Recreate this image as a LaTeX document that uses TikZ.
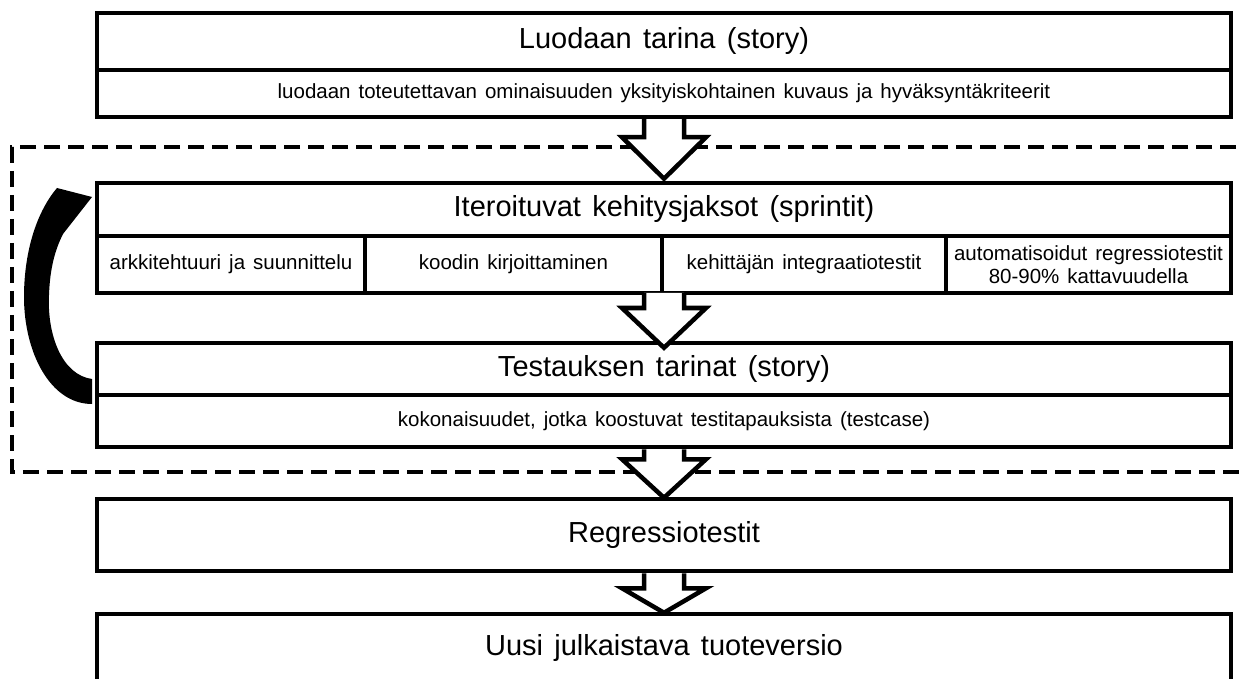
\documentclass[tikz,border=0pt]{standalone}
\usepackage{fontspec}
\setmainfont{Liberation Sans}[WordSpace=1.4]
\usetikzlibrary{calc}
\begin{document}
\begin{tikzpicture}[x=1pt,y=-1pt,
  box/.style={draw=black,line width=4.5pt,fill=white,inner sep=0pt,align=center},
  titlebox/.style={box,font=\fontsize{29}{33}\selectfont},
  subbox/.style={box,font=\fontsize{20.5}{22.5}\selectfont},
  blockarr/.style={draw=black,fill=white,line width=4.5pt,line join=miter},
  dashbox/.style={draw=black,line width=4.5pt,dash pattern=on 16pt off 8pt}]
\useasboundingbox (0,0) rectangle (1243,679);
\clip (0,0) rectangle (1243,679);
% dashed iteration frame
\draw[dashbox] (1260,147) -- (12,147) -- (12,472) -- (1260,472);
% box 1
\node[titlebox,minimum width=1134pt,minimum height=57pt] (b1top) at (664,41.5) {Luodaan tarina (story)};
\node[subbox,minimum width=1134pt,minimum height=47pt] (b1sub) at (664,93.5) {luodaan toteutettavan ominaisuuden yksityiskohtainen kuvaus ja hyväksyntäkriteerit};
% box 2
\node[titlebox,minimum width=1134pt,minimum height=53pt] (b2top) at (664,209.5) {Iteroituvat kehitysjaksot (sprintit)};
\node[subbox,minimum width=268pt,minimum height=57pt] (c1) at (231,264.5) {arkkitehtuuri ja suunnittelu};
\node[subbox,minimum width=297pt,minimum height=57pt] (c2) at (513.5,264.5) {koodin kirjoittaminen};
\node[subbox,minimum width=284pt,minimum height=57pt] (c3) at (804,264.5) {kehittäjän integraatiotestit};
\node[subbox,minimum width=285pt,minimum height=57pt] (c4) at (1088.5,264.5) {automatisoidut regressiotestit\\80-90\% kattavuudella};
\coordinate (b2bot) at (664,293);
% box 3
\node[titlebox,minimum width=1134pt,minimum height=52pt] (b3top) at (664,369) {Testauksen tarinat (story)};
\node[subbox,minimum width=1134pt,minimum height=52pt] (b3sub) at (664,421) {kokonaisuudet, jotka koostuvat testitapauksista (testcase)};
% box 4
\node[titlebox,minimum width=1134pt,minimum height=72pt] (b4) at (664,535) {Regressiotestit};
% box 5
\node[titlebox,minimum width=1134pt,minimum height=68pt] (b5) at (664,648) {Uusi julkaistava tuoteversio};
% block arrows
\draw[blockarr] ($(b1sub.south)+(-20,0)$) -- ($(b1sub.south)+(-20,18)$) -- ($(b1sub.south)+(-42,18)$) -- ($(b2top.north)+(0,-2)$) -- ($(b1sub.south)+(42,18)$) -- ($(b1sub.south)+(20,18)$) -- ($(b1sub.south)+(20,0)$);
\draw[blockarr] ($(b2bot)+(-20,0)$) -- ($(b2bot)+(-20,15)$) -- ($(b2bot)+(-42,15)$) -- ($(b3top.north)+(0,7)$) -- ($(b2bot)+(42,15)$) -- ($(b2bot)+(20,15)$) -- ($(b2bot)+(20,0)$);
\draw[blockarr] ($(b3sub.south)+(-20,0)$) -- ($(b3sub.south)+(-20,10)$) -- ($(b3sub.south)+(-42,10)$) -- ($(b4.north)+(0,1)$) -- ($(b3sub.south)+(42,10)$) -- ($(b3sub.south)+(20,10)$) -- ($(b3sub.south)+(20,0)$);
\draw[blockarr] ($(b4.south)+(-20,0)$) -- ($(b4.south)+(-20,15)$) -- ($(b4.south)+(-42,15)$) -- ($(b5.north)+(0,1)$) -- ($(b4.south)+(42,15)$) -- ($(b4.south)+(20,15)$) -- ($(b4.south)+(20,0)$);
% curved loop arrow
\fill[black] (92,379) .. controls (62,375) and (47,335) .. (49,295) .. controls (50,268) and (55,250) .. (63,234) -- (92,197) -- (57,188) .. controls (35,214) and (24,255) .. (24,297) .. controls (24,352) and (50,404) .. (92,404) -- cycle;
\end{tikzpicture}
\end{document}
